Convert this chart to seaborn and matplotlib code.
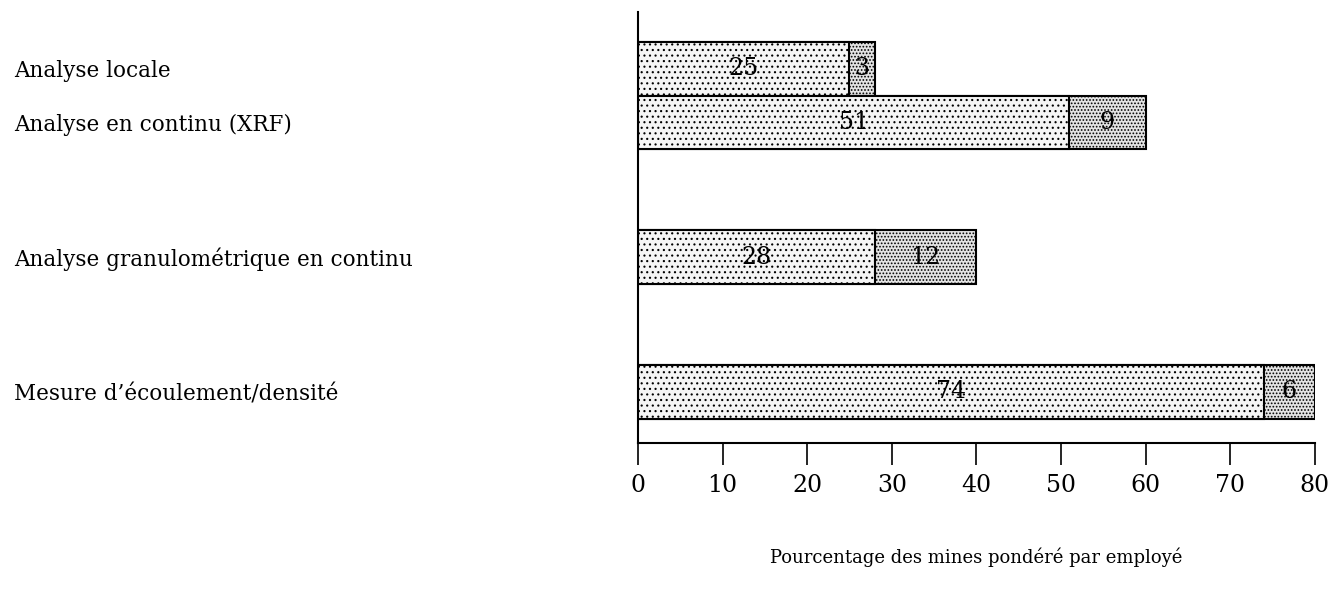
import matplotlib
matplotlib.use('Agg')

import pandas as pd
import matplotlib.pyplot as plt
import seaborn as sns

# données
categories = ['Analyse locale', 'Analyse en continu (XRF)',
              'Analyse granulométrique en continu', "Mesure d\u2019écoulement/densité"]
positions = [0, 1, 3.5, 6]
part1 = [25, 51, 28, 74]
part2 = [3, 9, 12, 6]

df = pd.DataFrame({'pos': positions, 'p1': part1, 'p2': part2})
df['total'] = df['p1'] + df['p2']

sns.set_style('white')
plt.rcParams['font.family'] = ['DejaVu Serif']
plt.rcParams['text.color'] = 'black'
plt.rcParams['xtick.color'] = 'black'
plt.rcParams['ytick.color'] = 'black'
plt.rcParams['axes.labelcolor'] = 'black'
plt.rcParams['hatch.linewidth'] = 0.8

fig = plt.figure(figsize=(13.32, 5.91), dpi=100)
ax = fig.add_axes([0.479, 0.2504, 0.508, 0.7293])

# barre totale (segment 2) puis segment 1 par-dessus
sns.barplot(data=df, x='total', y='pos', orient='h', native_scale=True,
            width=1, color='#e3e3e3', edgecolor='black', linewidth=1.5, ax=ax)
n2 = len(ax.patches)
sns.barplot(data=df, x='p1', y='pos', orient='h', native_scale=True,
            width=1, color='#f5f5f5', edgecolor='black', linewidth=1.5, ax=ax)
for i, p in enumerate(ax.patches):
    p.set_hatch('.....' if i < n2 else '...')

for pos, a, b in zip(positions, part1, part2):
    ax.text(a / 2, pos, str(a), ha='center', va='center', fontsize=17)
    ax.text(a + b / 2, pos, str(b), ha='center', va='center', fontsize=17)

ax.set_xlim(0, 80)
ax.set_ylim(6.95, -1.05)
ax.set_xticks(range(0, 81, 10))
ax.tick_params(axis='x', direction='out', length=16, width=1.2, labelsize=17, pad=6, bottom=True)
ax.set_yticks(positions)
ax.set_yticklabels(categories, fontsize=15.5, ha='left')
ax.tick_params(axis='y', length=0, pad=449)
ax.set_ylabel('')
ax.set_xlabel('Pourcentage des mines pondéré par employé', fontsize=13, labelpad=37)

sns.despine(ax=ax, top=True, right=True)
for s in ['left', 'bottom']:
    ax.spines[s].set_linewidth(1.5)
    ax.spines[s].set_color('black')

fig.savefig('out.png', dpi=100)
